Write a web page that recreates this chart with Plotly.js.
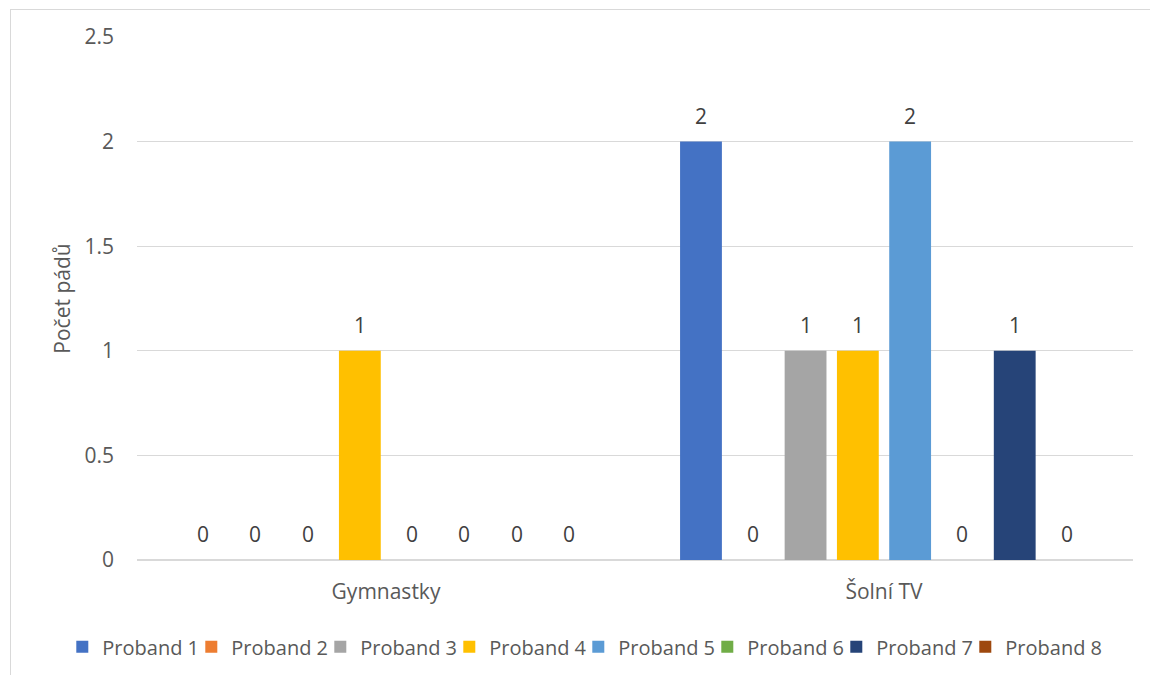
<!DOCTYPE html>
<html>
<head>
<meta charset="utf-8">
<script src="https://cdn.plot.ly/plotly-3.0.1.min.js"></script>
<style>
  html, body { margin: 0; padding: 0; background: #fff; }
  #frame { position: absolute; left: 10px; top: 9px; width: 1160px; height: 700px;
           border: 1.5px solid #d9d9d9; box-sizing: border-box; }
  #chart { position: absolute; left: 0; top: 0; width: 1150px; height: 675px; }
</style>
</head>
<body>
<div id="frame"></div>
<div id="chart"></div>
<script>
// Počet pádů podle typu cvičení a probanda
const categories = ['Gymnastky', 'Šolní TV'];
const seriesNames = ['Proband 1', 'Proband 2', 'Proband 3', 'Proband 4',
                     'Proband 5', 'Proband 6', 'Proband 7', 'Proband 8'];
const proband1 = [0, 2];
const proband2 = [0, 0];
const proband3 = [0, 1];
const proband4 = [1, 1];
const proband5 = [0, 2];
const proband6 = [0, 0];
const proband7 = [0, 1];
const proband8 = [0, 0];
const seriesValues = [proband1, proband2, proband3, proband4, proband5, proband6, proband7, proband8];
const colors = ['#4472C4', '#ED7D31', '#A5A5A5', '#FFC000', '#5B9BD5', '#70AD47', '#264478', '#9E480E'];
const yTicks = [0, 0.5, 1, 1.5, 2, 2.5];

const FONT = 'Open Sans, Noto Sans, sans-serif';
const TEXT_COLOR = '#595959';
const LABEL_COLOR = '#404040';
const BAR_GAP = 0.16;
const GROUP_GAP = 0.2;
const LEGEND_ENTRY = 84;

const traces = seriesNames.map((name, i) => ({
  type: 'bar',
  name: name,
  x: categories,
  y: seriesValues[i],
  marker: { color: colors[i] },
  // the last legend entry gets room for its full text
  legendwidth: i === seriesNames.length - 1 ? 100 : LEGEND_ENTRY,
  hoverinfo: 'x+y+name'
}));

// Value labels above each bar: centred on the bar's slot within its category group
const nSeries = seriesNames.length;
const slot = (1 - BAR_GAP) / nSeries;
const annotations = [];
seriesValues.forEach((vals, i) => {
  vals.forEach((v, c) => {
    annotations.push({
      xref: 'x', yref: 'y',
      x: c + (i - (nSeries - 1) / 2) * slot,
      y: v,
      text: String(v),
      showarrow: false,
      xanchor: 'center',
      yanchor: 'bottom',
      yshift: 10,
      font: { family: FONT, size: 21, color: LABEL_COLOR }
    });
  });
});

const layout = {
  width: 1150,
  height: 675,
  margin: { l: 137, r: 17, t: 37, b: 115, autoexpand: false },
  paper_bgcolor: 'rgba(0,0,0,0)',
  plot_bgcolor: 'rgba(0,0,0,0)',
  barmode: 'group',
  bargap: BAR_GAP,
  bargroupgap: GROUP_GAP,
  font: { family: FONT, color: TEXT_COLOR, size: 21 },
  annotations: annotations,
  xaxis: {
    type: 'category',
    range: [-0.5, 1.5],
    showgrid: false,
    showline: false,
    ticks: '',
    ticklabelstandoff: 17,
    tickfont: { family: FONT, size: 21, color: TEXT_COLOR }
  },
  yaxis: {
    range: [0, 2.5],
    tickvals: yTicks,
    ticktext: yTicks.map(String),
    showgrid: true,
    gridcolor: '#d9d9d9',
    gridwidth: 1.3,
    zeroline: true,
    zerolinecolor: '#d9d9d9',
    zerolinewidth: 1.6,
    showline: false,
    ticks: '',
    ticklabelstandoff: 22,
    tickfont: { family: FONT, size: 21, color: TEXT_COLOR },
    title: { text: 'Počet pádů', font: { family: FONT, size: 21, color: TEXT_COLOR }, standoff: 8 }
  },
  legend: {
    orientation: 'h',
    x: -0.075,
    xanchor: 'left',
    y: -0.166,
    yanchor: 'middle',
    font: { family: FONT, size: 20, color: TEXT_COLOR },
    itemwidth: 30,
    entrywidth: LEGEND_ENTRY,
    traceorder: 'normal'
  },
  showlegend: true
};

Plotly.newPlot('chart', traces, layout, { displayModeBar: false });
</script>
</body>
</html>
